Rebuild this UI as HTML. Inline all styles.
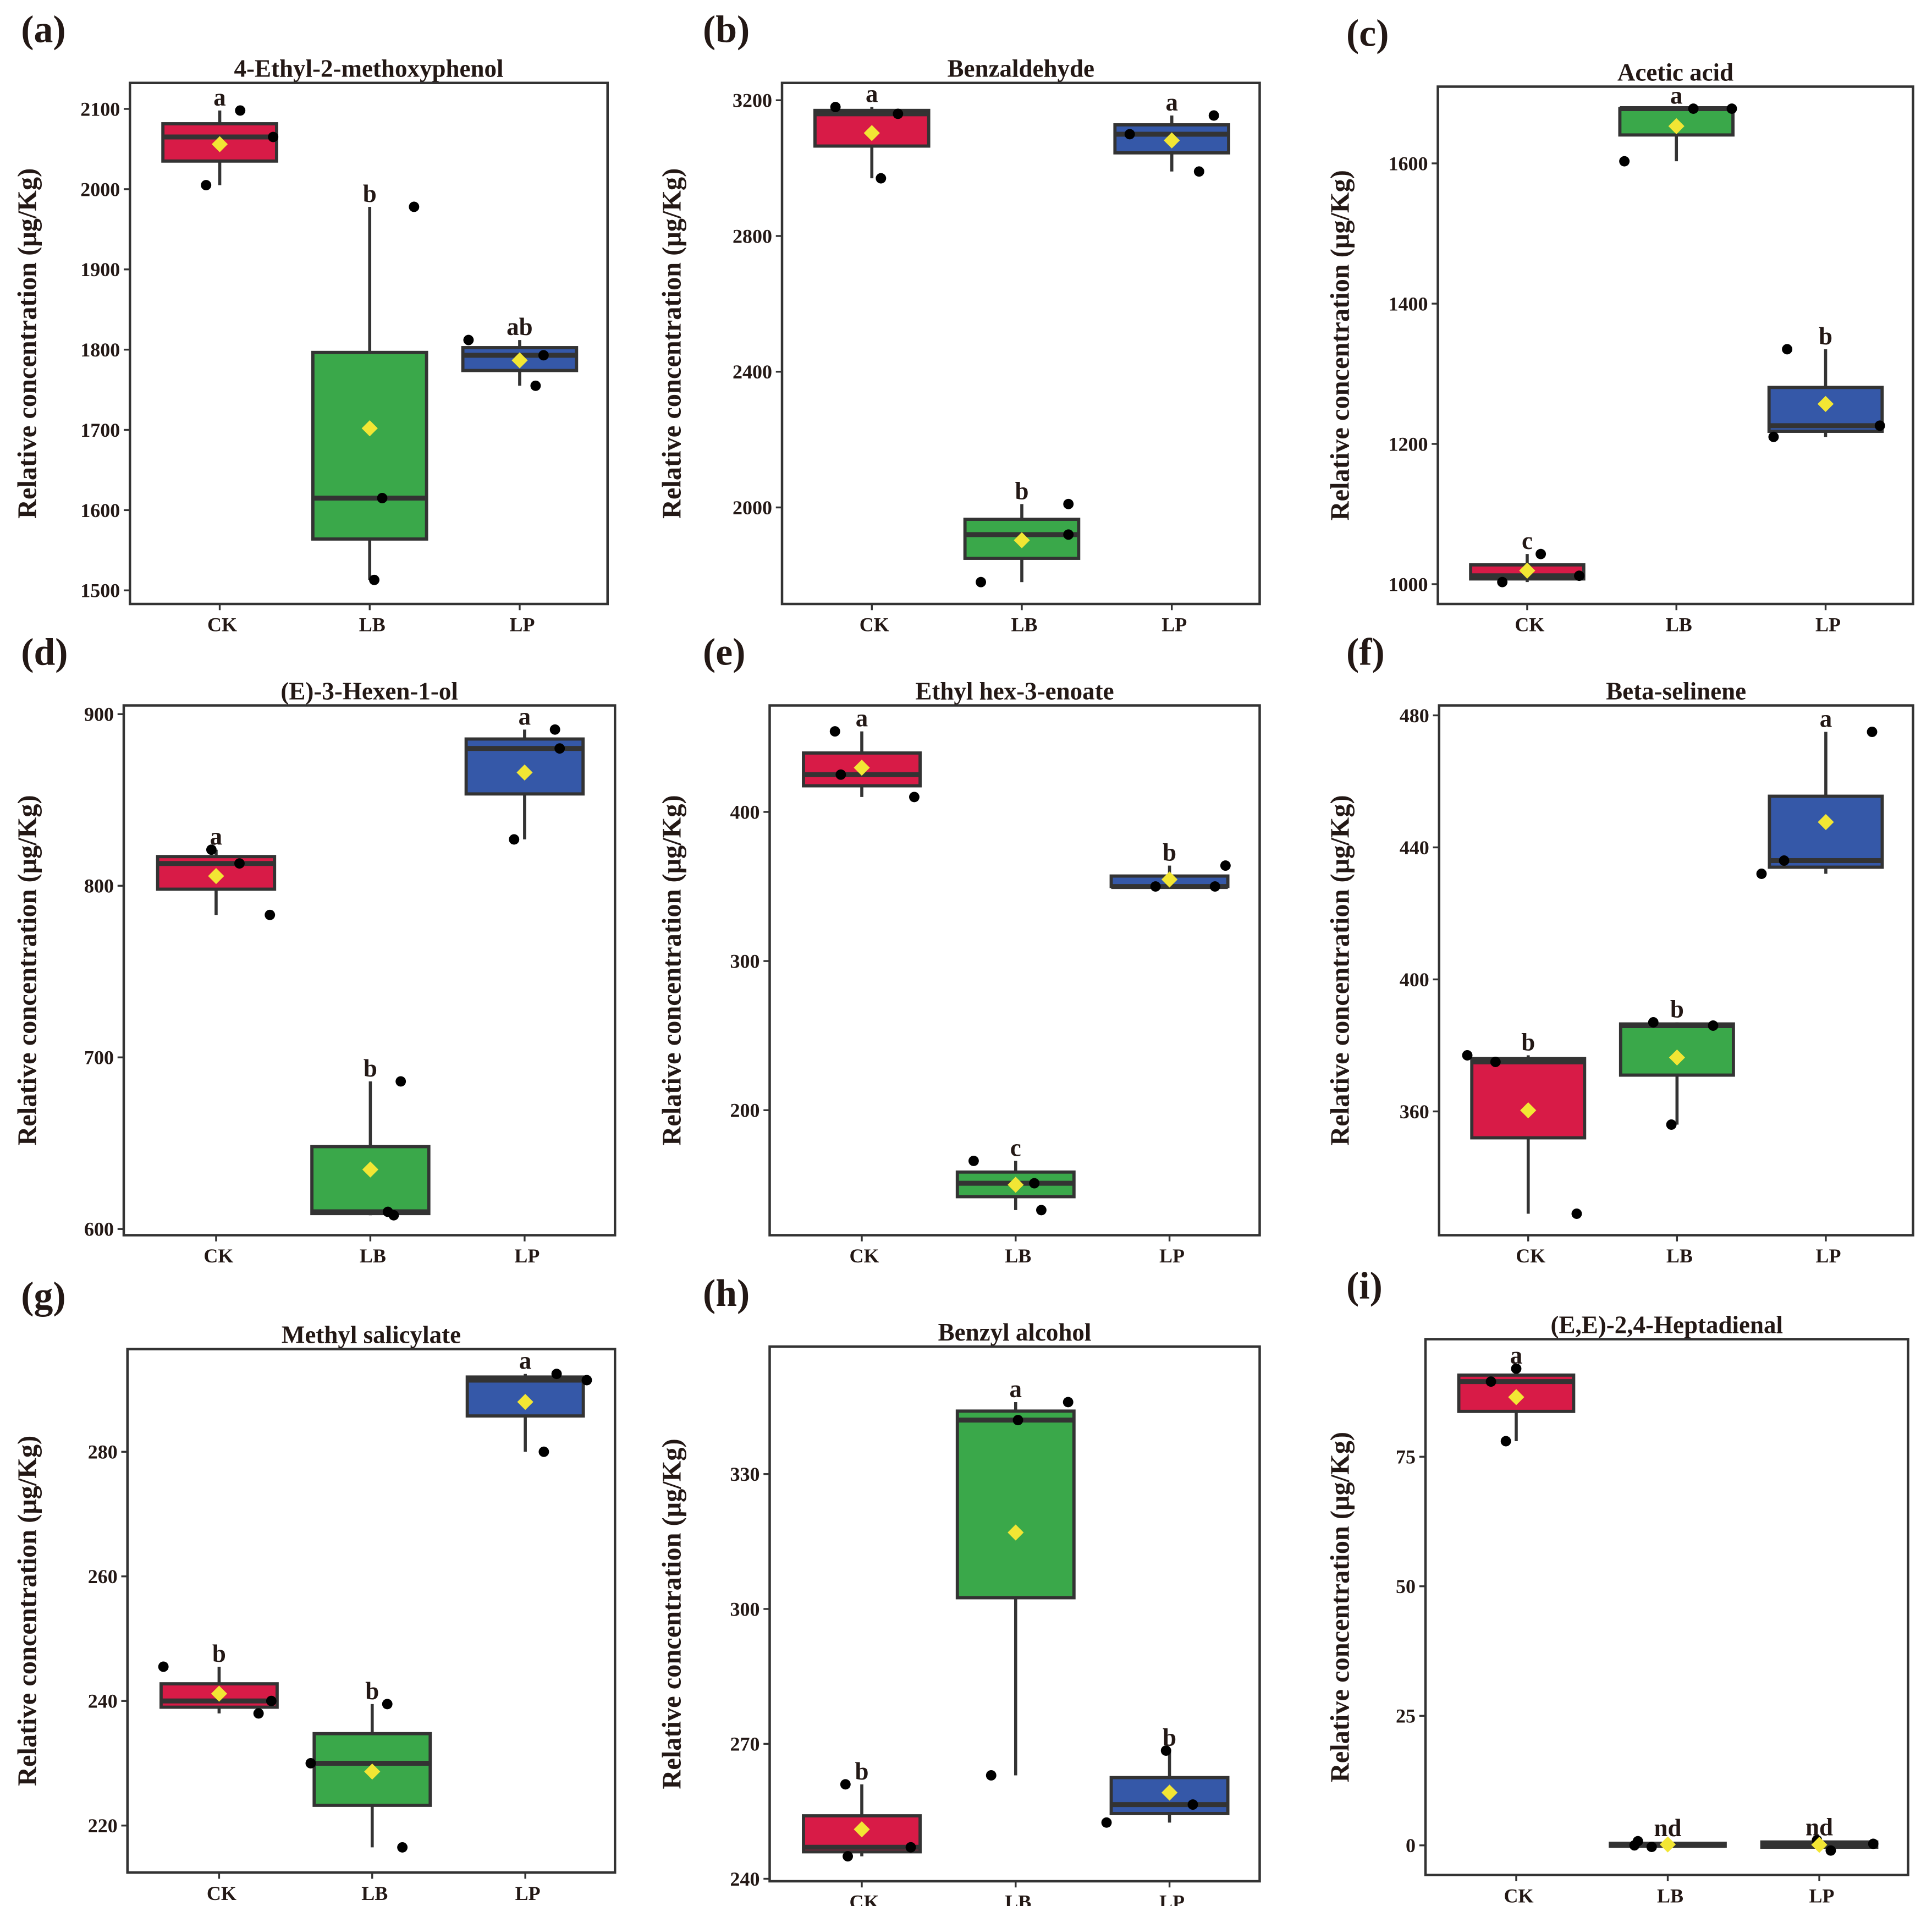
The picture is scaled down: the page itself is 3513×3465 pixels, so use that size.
<!DOCTYPE html>
<html><head><meta charset="utf-8"><style>
html,body{margin:0;padding:0;background:#fff;}
svg{display:block;}
text{font-family:"Liberation Serif",serif;font-weight:bold;fill:#231815;}
</style></head><body>
<svg id="fig" width="3513" height="3465" viewBox="0 0 1561.33 1540" xmlns="http://www.w3.org/2000/svg"></svg>
<script>
// ---- data ----
const groups = ["CK","LB","LP"];
const panelLabels = ["(a)","(b)","(c)","(d)","(e)","(f)","(g)","(h)","(i)"];
const titles = ["4-Ethyl-2-methoxyphenol","Benzaldehyde","Acetic acid","(E)-3-Hexen-1-ol","Ethyl hex-3-enoate","Beta-selinene","Methyl salicylate","Benzyl alcohol","(E,E)-2,4-Heptadienal"];
const valsA = [[2005,2098,2065],[1978,1615,1513],[1812,1793,1755]];
const valsB = [[3180,3160,2970],[1780,1920,2010],[3100,3155,2990]];
const valsC = [[1003,1043,1012],[1603,1678,1678],[1210,1335,1226]];
const valsD = [[821,813,783],[610,608,686],[827,891,880]];
const valsE = [[454,425,410],[166,151,133],[350,350,364]];
const valsF = [[377,375,329],[356,387,386],[432,436,475]];
const valsG = [[245.5,238,240],[230,239.5,216.5],[280,292.5,291.5]];
const valsH = [[245,261,247],[263,342,346],[252.5,268.5,256.5]];
const valsI = [[89.5,92,78],[0,0.8,-0.3],[1,-1,0.3]];
const lettersAll = [["a","b","ab"],["a","b","a"],["c","a","b"],["a","b","a"],["a","c","b"],["b","b","a"],["b","b","a"],["b","a","b"],["a","nd","nd"]];
const ticksA = [1500,1600,1700,1800,1900,2000,2100];
const ticksB = [2000,2400,2800,3200];
const ticksC = [1000,1200,1400,1600];
const ticksD = [600,700,800,900];
const ticksE = [200,300,400];
const ticksF = [360,400,440,480];
const ticksG = [220,240,260,280];
const ticksH = [240,270,300,330];
const ticksI = [0,25,50,75];
// horizontal jitter of each point (fraction of box width)
const jitA = [[-0.12,0.18,0.47],[0.39,0.11,0.04],[-0.45,0.21,0.14]];
const jitB = [[-0.32,0.23,0.08],[-0.36,0.41,0.41],[-0.37,0.37,0.24]];
const jitC = [[-0.22,0.12,0.46],[-0.46,0.15,0.49],[-0.46,-0.34,0.48]];
const jitD = [[-0.04,0.2,0.46],[0.15,0.2,0.26],[-0.09,0.26,0.3]];
const jitE = [[-0.23,-0.18,0.45],[-0.36,0.16,0.22],[-0.12,0.39,0.48]];
const jitF = [[-0.54,-0.29,0.43],[-0.05,-0.21,0.32],[-0.57,-0.37,0.41]];
const jitG = [[-0.48,0.34,0.45],[-0.53,0.13,0.26],[0.16,0.27,0.53]];
const jitH = [[-0.12,-0.14,0.42],[-0.21,0.02,0.45],[-0.54,-0.03,0.2]];
const jitI = [[-0.22,0,-0.09],[-0.29,-0.26,-0.14],[-0.02,0.1,0.47]];

// ---- layout (main-image units) ----
const layouts = [
 {x0:105,x1:491,y0:67,y1:488, t1:2100,p1:88, t2:1500,p2:477, ytx:22, lx:17},
 {x0:632,x1:1018,y0:67,y1:488, t1:3200,p1:81, t2:2000,p2:410, ytx:543, lx:568},
 {x0:1162,x1:1546,y0:70,y1:488, t1:1600,p1:132, t2:1000,p2:472, ytx:1083, lx:1088},
 {x0:100,x1:497,y0:570,y1:998, t1:900,p1:577, t2:600,p2:993, ytx:22, lx:17},
 {x0:622,x1:1018,y0:570,y1:998, t1:400,p1:656, t2:200,p2:897, ytx:543, lx:568},
 {x0:1163,x1:1546,y0:570,y1:998, t1:480,p1:578, t2:360,p2:898, ytx:1083, lx:1088},
 {x0:103,x1:497,y0:1090,y1:1513, t1:280,p1:1173, t2:220,p2:1475, ytx:22, lx:17},
 {x0:622,x1:1018,y0:1088,y1:1520, t1:330,p1:1191, t2:240,p2:1518, ytx:543, lx:568},
 {x0:1152,x1:1542,y0:1082,y1:1515, t1:75,p1:1177, t2:0,p2:1491, ytx:1083, lx:1088}
];
const allVals = [valsA,valsB,valsC,valsD,valsE,valsF,valsG,valsH,valsI];
const allTicks = [ticksA,ticksB,ticksC,ticksD,ticksE,ticksF,ticksG,ticksH,ticksI];
const allJit = [jitA,jitB,jitC,jitD,jitE,jitF,jitG,jitH,jitI];
const colors = ["#d81b47","#3aa84a","#3558a8"];
const NS="http://www.w3.org/2000/svg";
const svg=document.getElementById('fig');
function mk(tag,attrs,parent){const e=document.createElementNS(NS,tag);for(const k in attrs)e.setAttribute(k,attrs[k]);(parent||svg).appendChild(e);return e;}
function quart(v){const s=[...v].sort((a,b)=>a-b);const n=s.length;const q=p=>{const h=(n-1)*p;const l=Math.floor(h);return s[l]+(h-l)*((s[Math.min(l+1,n-1)])-s[l]);};return {min:s[0],max:s[n-1],q1:q(0.25),med:q(0.5),q3:q(0.75),mean:s.reduce((a,b)=>a+b,0)/n};}

layouts.forEach((L,pi)=>{
  const g=mk('g',{});
  
  
  const y=v=>L.p1+(v-L.t1)*(L.p2-L.p1)/(L.t2-L.t1);
  const w=L.x1-L.x0;
  const x=i=>L.x0+w*(0.188+0.314*i);
  const bw=w*0.238;
  const pl=mk('text',{x:L.lx,y:L.y0-33,'font-size':31},g);pl.textContent=panelLabels[pi];
  
  
  const tt=mk('text',{x:(L.x0+L.x1)/2,y:L.y0-5,'font-size':20,'text-anchor':'middle'},g);tt.textContent=titles[pi];
  
  
  allTicks[pi].forEach(t=>{
    const py=y(t);
    const tl=mk('line',{x1:L.x0-5,x2:L.x0,y1:py,y2:py,stroke:'#333','stroke-width':1.5},g);
    
    
    const lb=mk('text',{x:L.x0-8,y:py+5.5,'font-size':16,'text-anchor':'end'},g);lb.textContent=t;
    
    
  });
  const yt=mk('text',{x:0,y:0,'font-size':21.5,'text-anchor':'middle',transform:`translate(${L.ytx+7},${(L.y0+L.y1)/2}) rotate(-90)`},g);
  yt.textContent='Relative concentration (μg/Kg)';
  
  
  groups.forEach((gn,i)=>{
    const cx=x(i);
    const tk=mk('line',{x1:cx,x2:cx,y1:L.y1,y2:L.y1+5,stroke:'#333','stroke-width':1.5},g);
    
    
    const xl=mk('text',{x:cx+2,y:L.y1+22,'font-size':16,'text-anchor':'middle'},g);xl.textContent=gn;
    
    
    const v=allVals[pi][i];const s=quart(v);
    const wh=mk('line',{x1:cx,x2:cx,y1:y(s.min),y2:y(s.max),stroke:'#333','stroke-width':2.5},g);
    
    
    const top=Math.min(y(s.q3),y(s.q1)), h=Math.max(Math.abs(y(s.q1)-y(s.q3)),2);
    const bx=mk('rect',{x:cx-bw/2,y:top,width:bw,height:h,fill:colors[i],stroke:'#333','stroke-width':2.6},g);
    
    
    const md=mk('line',{x1:cx-bw/2,x2:cx+bw/2,y1:y(s.med),y2:y(s.med),stroke:'#333','stroke-width':4},g);
    
    
    v.forEach((val,k)=>{
      const pt=mk('circle',{cx:cx+allJit[pi][i][k]*bw,cy:y(val),r:4.2,fill:'#000'},g);
      
      
    });
    const my=y(s.mean),d=6.5;
    const mn=mk('polygon',{points:`${cx},${my-d} ${cx+d},${my} ${cx},${my+d} ${cx-d},${my}`,fill:'#f2e634'},g);
    
    
    const lt=mk('text',{x:cx,y:y(s.max)-4,'font-size':20,'text-anchor':'middle'},g);lt.textContent=lettersAll[pi][i];
    
    
  });
  const fr=mk('rect',{x:L.x0,y:L.y0,width:w,height:L.y1-L.y0,fill:'none',stroke:'#333','stroke-width':2},g);
  
  
});
</script>
</body></html>
